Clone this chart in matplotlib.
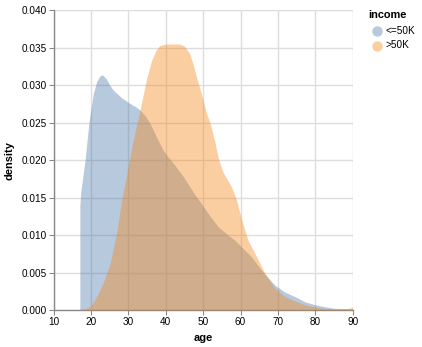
import matplotlib
matplotlib.use("Agg")
import matplotlib.pyplot as plt
import matplotlib.ticker as ticker
from matplotlib.lines import Line2D

plt.rcParams['font.family'] = ['Liberation Sans', 'DejaVu Sans']

# density estimates
age_low = [17.0, 17.3, 18.4, 19.4, 20.6, 21.5, 22.3, 23.0, 24.0, 25.0, 26.0, 28.0,
           30.0, 32.0, 33.1, 34.5, 35.8, 37.5, 39.3, 40.5, 42.0, 44.7, 47.5, 49.5,
           51.3, 54.0, 56.7, 58.5, 60.3, 62.9, 65.6, 67.0, 69.2, 71.8, 74.5, 77.2,
           79.9, 82.5, 85.2, 87.9, 90.0]
dens_low = [0.0140, 0.0160, 0.0200, 0.0249, 0.0289, 0.0305, 0.0312, 0.0314, 0.0309,
            0.0300, 0.0293, 0.0284, 0.0277, 0.0271, 0.0267, 0.0259, 0.0249, 0.0231,
            0.0213, 0.0205, 0.0196, 0.0178, 0.0156, 0.0142, 0.0129, 0.0111, 0.0100,
            0.0093, 0.0084, 0.0071, 0.0053, 0.0045, 0.0033, 0.0024, 0.0018, 0.0011,
            0.0007, 0.00044, 0.00022, 0.00018, 0.00012]

age_high = [17.0, 18.5, 19.7, 21.0, 22.4, 23.8, 25.1, 26.8, 28.2, 29.5, 31.3, 33.1,
            34.9, 36.2, 37.4, 38.4, 40.0, 42.0, 43.8, 45.0, 46.4, 47.3, 48.2, 49.6,
            50.9, 51.8, 53.1, 54.0, 55.3, 57.6, 58.9, 60.3, 62.0, 64.3, 66.5, 69.2,
            71.8, 74.5, 77.2, 79.9, 82.5, 85.5, 88.7, 90.0]
dens_high = [0.0000, 0.0002, 0.00044, 0.0013, 0.0027, 0.0043, 0.0062, 0.0102, 0.0147,
             0.0180, 0.0227, 0.0267, 0.0310, 0.0333, 0.0347, 0.0353, 0.0355, 0.0355,
             0.0355, 0.0352, 0.0342, 0.0328, 0.0311, 0.0287, 0.0262, 0.0250, 0.0225,
             0.0203, 0.0184, 0.0164, 0.0147, 0.0120, 0.0093, 0.0071, 0.0049, 0.0029,
             0.0018, 0.0012, 0.0007, 0.0004, 0.0002, 0.0001, 0.0002, 0.0004]

labels = ['<=50K', '>50K']
colors = ['#4c78a8', '#f58518']
alpha = 0.4

W, H = 422, 347
fig = plt.figure(figsize=(W / 100, H / 100), dpi=100)
ax = fig.add_axes([53.7 / W, (H - 310) / H, 299 / W, 299.7 / H])

ax.fill_between(age_low, dens_low, 0, color=colors[0], alpha=alpha, lw=0, zorder=2)
ax.fill_between(age_high, dens_high, 0, color=colors[1], alpha=alpha, lw=0, zorder=3)

ax.set_xlim(10, 90)
ax.set_ylim(0, 0.04)
ax.xaxis.set_major_locator(ticker.MultipleLocator(10))
ax.yaxis.set_major_locator(ticker.MultipleLocator(0.005))
ax.yaxis.set_major_formatter(ticker.FormatStrFormatter('%.3f'))

ax.grid(True, color='#dddddd', linewidth=1)
ax.set_axisbelow(True)
for s in ['top', 'right']:
    ax.spines[s].set_visible(False)
for s in ['left', 'bottom']:
    ax.spines[s].set_color('#888888')
    ax.spines[s].set_linewidth(1)
ax.tick_params(length=3.6, width=0.75, color='#888888', labelsize=7.2,
               labelcolor='#000000', pad=1.5)

ax.set_xlabel('age', fontsize=7.9, fontweight='bold', labelpad=4)
ax.set_ylabel('density', fontsize=7.9, fontweight='bold', labelpad=5)

# legend drawn by hand in pixel positions
fig.text(368 / W, 1 - 15 / H, 'income', fontsize=7.9, fontweight='bold',
         ha='left', va='center')
for i, lab in enumerate(labels):
    yy = 1 - (30.5 + 15 * i) / H
    fig.add_artist(Line2D([377 / W], [yy], marker='o', markersize=7.5,
                          markerfacecolor=colors[i], markeredgewidth=0,
                          alpha=alpha, linestyle='none'))
    fig.text(386 / W, yy, lab, fontsize=7.2, ha='left', va='center')

fig.savefig('out.png', dpi=100)
